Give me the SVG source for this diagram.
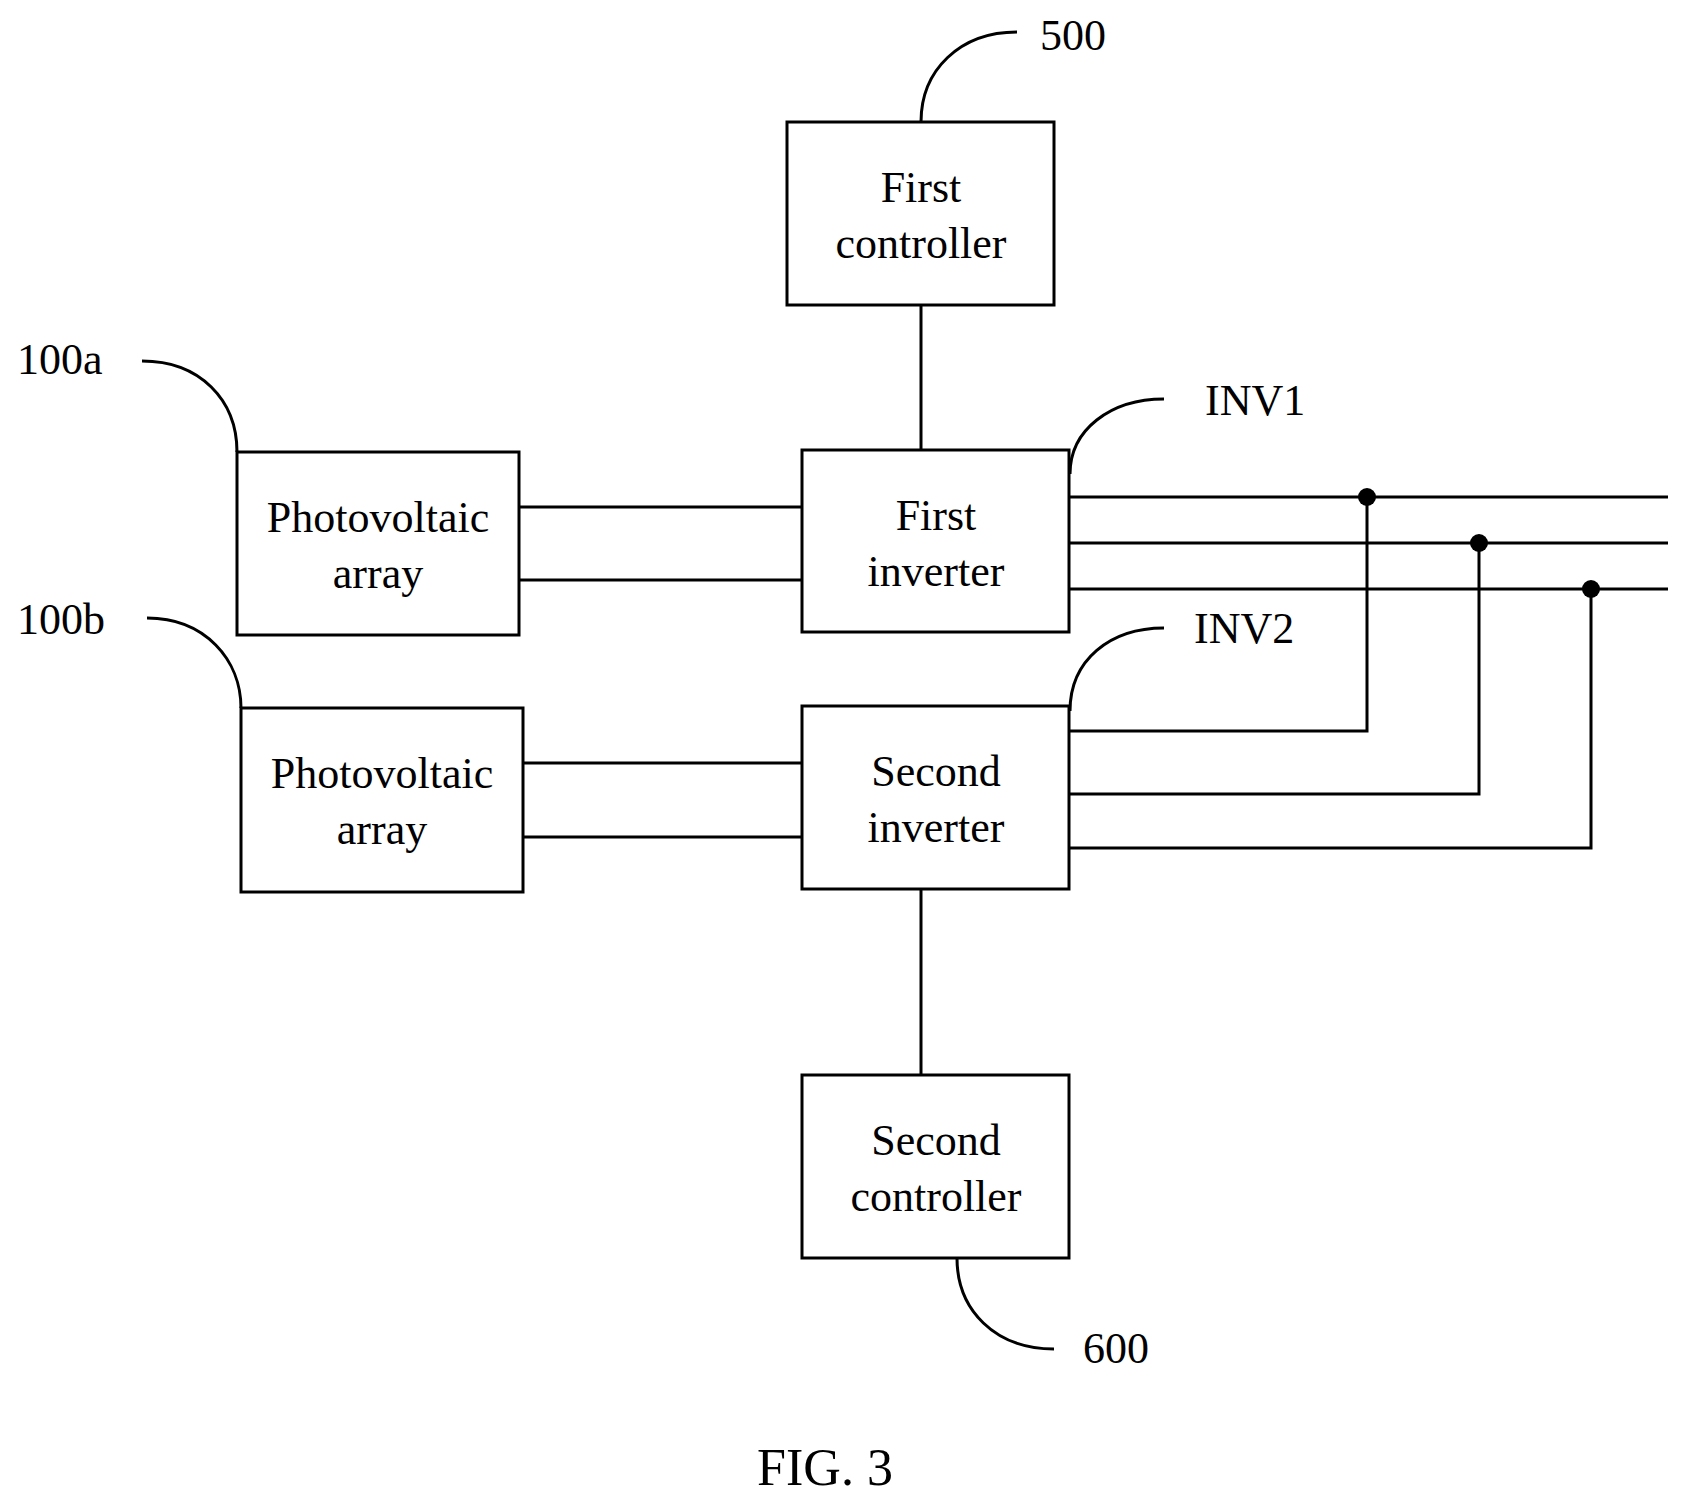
<svg xmlns="http://www.w3.org/2000/svg" width="1687" height="1508" viewBox="0 0 1687 1508">
<style>
.b{fill:#fff;stroke:#000;stroke-width:3}
path,line{fill:none;stroke:#000;stroke-width:3}
text{font-family:"Liberation Serif",serif;font-size:44px;fill:#000}
.c{text-anchor:middle}
</style>
<rect width="1687" height="1508" fill="#fff"/>
<g id="connectors">
<line x1="921" y1="305" x2="921" y2="450"/>
<line x1="921" y1="889" x2="921" y2="1075"/>
<line x1="519" y1="507" x2="802" y2="507"/>
<line x1="519" y1="580" x2="802" y2="580"/>
<line x1="523" y1="763" x2="802" y2="763"/>
<line x1="523" y1="837" x2="802" y2="837"/>
<line x1="1069" y1="497" x2="1668" y2="497"/>
<line x1="1069" y1="543" x2="1668" y2="543"/>
<line x1="1069" y1="589" x2="1668" y2="589"/>
<path d="M1069 731H1367V497"/>
<path d="M1069 794H1479V543"/>
<path d="M1069 848H1591V589"/>
<circle cx="1367" cy="497" r="9"/>
<circle cx="1479" cy="543" r="9"/>
<circle cx="1591" cy="589" r="9"/>
<path d="M921 122C921 70 960 32 1017 32"/>
<path d="M142 361C200 361 237 400 237 452"/>
<path d="M147 618C205 618 241 660 241 708"/>
<path d="M1164 399C1110 399 1070 430 1070 474"/>
<path d="M1164 628C1110 628 1070 660 1070 711"/>
<path d="M957 1258C957 1310 995 1349 1054 1349"/>
</g>
<g id="first-controller"><rect class="b" x="787" y="122" width="267" height="183"/><text class="c" x="921" y="202">First</text><text class="c" x="921" y="258">controller</text></g>
<g id="pv-a"><rect class="b" x="237" y="452" width="282" height="183"/><text class="c" x="378" y="532">Photovoltaic</text><text class="c" x="378" y="588">array</text></g>
<g id="first-inverter"><rect class="b" x="802" y="450" width="267" height="182"/><text class="c" x="936" y="530">First</text><text class="c" x="936" y="586">inverter</text></g>
<g id="pv-b"><rect class="b" x="241" y="708" width="282" height="184"/><text class="c" x="382" y="788">Photovoltaic</text><text class="c" x="382" y="844">array</text></g>
<g id="second-inverter"><rect class="b" x="802" y="706" width="267" height="183"/><text class="c" x="936" y="786">Second</text><text class="c" x="936" y="842">inverter</text></g>
<g id="second-controller"><rect class="b" x="802" y="1075" width="267" height="183"/><text class="c" x="936" y="1155">Second</text><text class="c" x="936" y="1211">controller</text></g>
<g id="labels">
<text x="1040" y="50">500</text>
<text x="17" y="374">100a</text>
<text x="17" y="634">100b</text>
<text x="1205" y="415">INV1</text>
<text x="1194" y="643">INV2</text>
<text x="1083" y="1363">600</text>
<text class="c" x="825" y="1485" style="font-size:52px">FIG. 3</text>
</g>
</svg>
